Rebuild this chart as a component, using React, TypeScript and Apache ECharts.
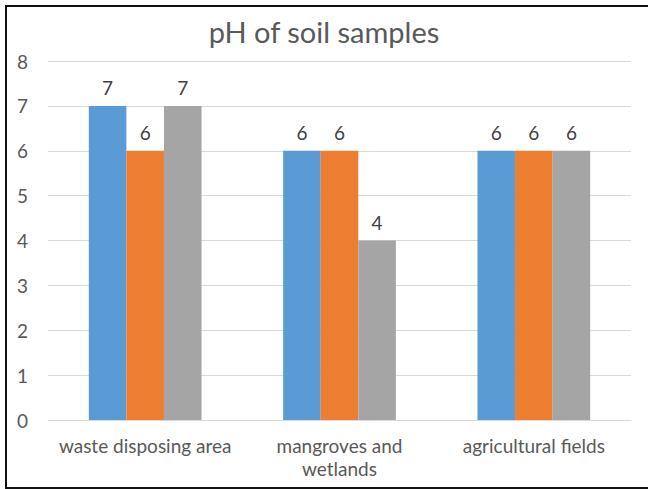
import React, { useEffect, useRef } from "react";
import * as echarts from "echarts";

const categories = ["waste disposing area", "mangroves and wetlands", "agricultural fields"];
const series1 = [7, 6, 6];
const series2 = [6, 6, 6];
const series3 = [7, 4, 6];
const colors = ["#5B9BD5", "#ED7D31", "#A5A5A5"];

export default function App() {
  const ref = useRef<HTMLDivElement>(null);
  useEffect(() => {
    const chart = echarts.init(ref.current!, null, { renderer: "svg" });
    const font = "Lato, 'Open Sans', sans-serif";
    const mk = (name: string, data: number[], color: string) => ({
      name,
      type: "bar",
      data,
      barGap: "0%",
      barCategoryGap: "42%",
      itemStyle: { color },
      label: {
        show: true,
        position: "top",
        distance: 9,
        color: "#404040",
        fontSize: 19,
        fontFamily: font,
      },
    });
    chart.setOption({
      animation: false,
      backgroundColor: "#fff",
      title: {
        text: "pH of soil samples",
        left: "center",
        top: 12,
        textStyle: { color: "#595959", fontSize: 29, fontWeight: "normal", fontFamily: font },
      },
      graphic: [
        {
          type: "rect",
          shape: { x: 6, y: 6, width: 700, height: 482 },
          style: { fill: "none", stroke: "#111", lineWidth: 2 },
          silent: true,
        },
      ],
      grid: { left: 48, right: 17, top: 61, bottom: 69, containLabel: false },
      xAxis: {
        type: "category",
        data: categories,
        axisLine: { lineStyle: { color: "#D9D9D9" } },
        axisTick: { show: false },
        axisLabel: {
          color: "#595959",
          fontSize: 19,
          fontFamily: font,
          margin: 14,
          lineHeight: 23,
          interval: 0,
          formatter: (v: string) => v.replace("mangroves and ", "mangroves and\n"),
        },
      },
      yAxis: {
        type: "value",
        min: 0,
        max: 8,
        interval: 1,
        axisLine: { show: false },
        axisTick: { show: false },
        splitLine: { lineStyle: { color: "#D9D9D9" } },
        axisLabel: { color: "#595959", fontSize: 19, fontFamily: font, margin: 20 },
      },
      series: [
        mk("Series 1", series1, colors[0]),
        mk("Series 2", series2, colors[1]),
        mk("Series 3", series3, colors[2]),
      ],
    });
    return () => chart.dispose();
  }, []);
  return (
    <div
      ref={ref}
      style={{ position: "fixed", left: 0, top: 0, width: 648, height: 489 }}
    />
  );
}
